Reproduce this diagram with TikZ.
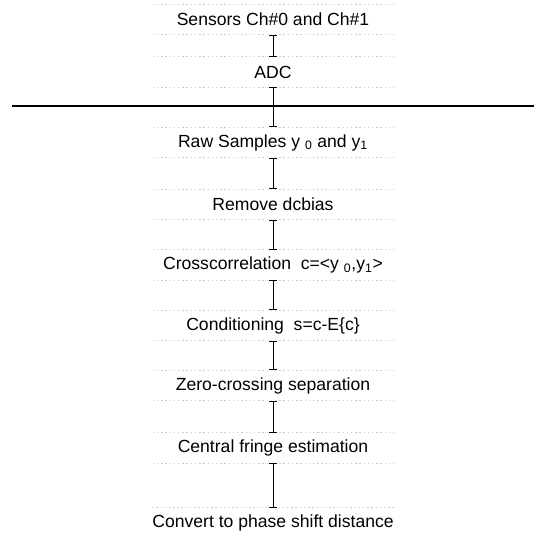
\documentclass[tikz,border=0pt]{standalone}
\usepackage{fontspec}
\setmainfont{Liberation Sans}
\usetikzlibrary{arrows.meta}

\begin{document}
\begin{tikzpicture}[
    stepbox/.style={minimum width=6cm, minimum height=0.75cm, inner sep=0pt,
      font=\fontsize{12.5}{15}\selectfont, align=center,
      append after command={
        (\tikzlastnode.north west) edge[rim] (\tikzlastnode.north east)
        (\tikzlastnode.south west) edge[rim] (\tikzlastnode.south east)}},
    rim/.style={gray!40, dash pattern=on 1pt off 2pt, line width=0.5pt},
    link/.style={{Bar[width=5pt]}-{Bar[width=5pt]}, black, line width=0.6pt},
    divider/.style={black, line width=2pt},
  ]
    \useasboundingbox (0,0) rectangle (13.35,-13.425);
    \node[stepbox] (sensors) at (6.825, -0.4875) {Sensors Ch\#0 and Ch\#1};
    \node[stepbox] (adc) at (6.825, -1.8) {ADC};
    \node[stepbox] (raw) at (6.825, -3.5625) {Raw Samples y\ \textsubscript{0} and y\textsubscript{1}};
    \node[stepbox] (dcbias) at (6.825, -5.1125) {Remove dcbias};
    \node[stepbox] (xcorr) at (6.825, -6.625) {Crosscorrelation\ \ c=<y\ \textsubscript{0},y\textsubscript{1}>};
    \node[stepbox] (cond) at (6.825, -8.1375) {Conditioning\ \ s=c-E\{c\}};
    \node[stepbox] (zerox) at (6.825, -9.6375) {Zero-crossing separation};
    \node[stepbox] (fringe) at (6.825, -11.2) {Central fringe estimation};
    \node[stepbox] (convert) at (6.825, -13.075) {Convert to phase shift distance};
    % hardware / software split
    \coordinate (divL) at (0.3, -2.65);
    \coordinate (divR) at (13.35, -2.65);
    \draw[divider] (divL) -- (divR);
    \draw[link] (sensors) -- (adc);
    \draw[link] (adc) -- (raw);
    \draw[link] (raw) -- (dcbias);
    \draw[link] (dcbias) -- (xcorr);
    \draw[link] (xcorr) -- (cond);
    \draw[link] (cond) -- (zerox);
    \draw[link] (zerox) -- (fringe);
    \draw[link] (fringe) -- (convert);
  \end{tikzpicture}
\end{document}
